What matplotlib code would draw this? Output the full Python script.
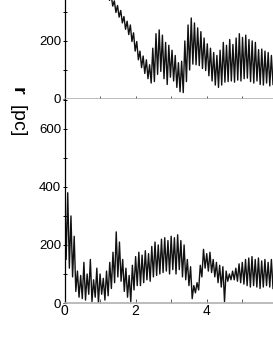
import numpy as np
import matplotlib
matplotlib.use("Agg")
import matplotlib.pyplot as plt
from matplotlib.ticker import MultipleLocator

plt.rcParams['font.family'] = ['Liberation Sans', 'DejaVu Sans']
plt.rcParams['mathtext.fontset'] = 'custom'
plt.rcParams['mathtext.bf'] = 'Liberation Sans:bold'

# top panel: peak / trough pairs, time from 1.22 to 5.86
top_t = (1.22, 5.86)
top_r = [380, 340, 360, 320, 338, 298, 322, 282, 305, 262, 284, 240,
         268, 222, 255, 198, 228, 165, 198, 135, 165, 108, 148, 88,
         135, 70, 118, 55, 175, 60, 225, 85, 238, 95, 220, 70,
         195, 50, 185, 75, 168, 62, 150, 40, 125, 25, 130, 22,
         200, 60, 255, 100, 279, 120, 262, 118, 245, 115, 232, 105,
         210, 98, 190, 80, 175, 62, 160, 48, 150, 40, 168, 48,
         195, 58, 185, 60, 205, 62, 188, 58, 210, 65, 225, 62,
         212, 70, 220, 72, 205, 60, 200, 55, 195, 62, 170, 50,
         172, 48, 165, 55, 160, 45, 150, 50]

# bottom panel: peak / trough pairs, time from 0 to 5.86
bot_t = (0.0, 5.86)
bot_r = [420, 150, 380, 120, 300, 90, 230, 40, 110, 20, 95, 15,
         140, 10, 100, 30, 150, 5, 80, 20, 120, 0, 100, 30,
         85, 10, 110, 25, 140, 50, 175, 70, 245, 90, 210, 75,
         150, 40, 120, 20, 95, 5, 130, 45, 160, 60, 175, 60,
         165, 70, 180, 80, 170, 75, 195, 90, 210, 95, 200, 100,
         220, 105, 225, 110, 215, 100, 230, 115, 225, 100, 235, 115,
         215, 90, 200, 80, 150, 60, 125, 15, 60, 35, 70, 45,
         130, 90, 185, 120, 170, 110, 175, 105, 150, 90, 140, 70,
         130, 55, 125, 5, 110, 75, 100, 80, 110, 80, 120, 75,
         135, 70, 140, 65, 150, 60, 155, 55, 160, 60, 150, 55,
         155, 50, 145, 55, 150, 60, 140, 55, 150, 50]

y_ticks = [0, 200, 400, 600]
x_ticks = [0, 2, 4]

fig = plt.figure(figsize=(2.73, 3.53), dpi=100)
W, H = 273.0, 353.0
left = 64.5 / W
ax1 = fig.add_axes([left, (H - 99) / H, 1 - left, 99 / H])
ax2 = fig.add_axes([left, (H - 303) / H, 1 - left, 204 / H])

for ax, tr, r, ymax in [(ax1, top_t, top_r, 341), (ax2, bot_t, bot_r, 703)]:
    t = np.linspace(tr[0], tr[1], len(r))
    ax.plot(t, r, color='#111111', lw=1.0)
    ax.set_xlim(0, 5.86)
    ax.set_ylim(0, ymax)
    ax.set_yticks([v for v in y_ticks if v < ymax])
    ax.yaxis.set_minor_locator(MultipleLocator(100))
    ax.xaxis.set_major_locator(MultipleLocator(1))
    ax.spines['right'].set_visible(False)
    ax.spines['top'].set_visible(False)
    ax.spines['left'].set_color('black')
    ax.spines['left'].set_linewidth(0.9)
    ax.spines['bottom'].set_color('#b0b0b0')
    ax.spines['bottom'].set_linewidth(1.2)
    ax.tick_params(axis='y', which='both', direction='inout', length=3,
                   width=0.7, labelsize=9.5, pad=1)
    ax.tick_params(axis='x', which='both', direction='inout', length=4,
                   width=0.7, color='#555555', labelsize=10, pad=1)

ax1.tick_params(axis='x', labelbottom=False)
ax2.xaxis.set_major_locator(MultipleLocator(2))
ax2.xaxis.set_minor_locator(MultipleLocator(1))
ax2.set_xticks(x_ticks)
ax2.tick_params(axis='x', which='both', direction='in', length=3)

fig.text(18 / W, 1 - 110 / H, r'$\mathbf{r}$  [pc]', rotation=-90,
         ha='center', va='center', fontsize=14)

fig.savefig('out.png', dpi=100)
